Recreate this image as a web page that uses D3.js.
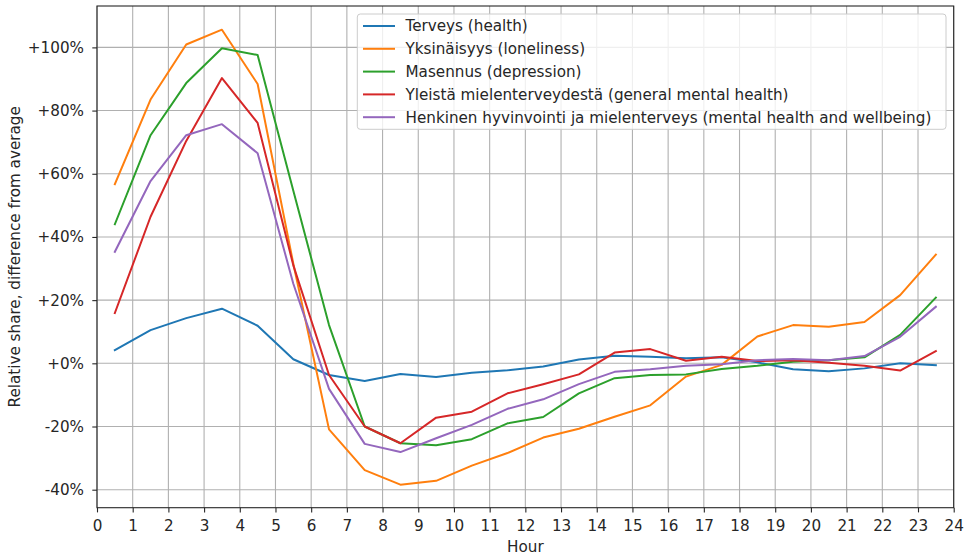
<!DOCTYPE html>
<html>
<head>
<meta charset="utf-8">
<script src="https://cdn.jsdelivr.net/npm/d3@7"></script>
<style>
  html, body { margin: 0; padding: 0; background: #fff; }
  svg { display: block; font-family: "DejaVu Sans", sans-serif; }
</style>
</head>
<body>
<svg id="chart" width="969" height="557"></svg>
<script>
const hours = [0.5,1.5,2.5,3.5,4.5,5.5,6.5,7.5,8.5,9.5,10.5,11.5,12.5,13.5,14.5,15.5,16.5,17.5,18.5,19.5,20.5,21.5,22.5,23.5];
const seriesNames = [
  "Terveys (health)",
  "Yksinäisyys (loneliness)",
  "Masennus (depression)",
  "Yleistä mielenterveydestä (general mental health)",
  "Henkinen hyvinvointi ja mielenterveys (mental health and wellbeing)"
];
const terveys    = [4.2,10.5,14.3,17.3,11.9,1.3,-3.7,-5.6,-3.4,-4.3,-3.0,-2.2,-1.0,1.2,2.4,2.1,1.6,1.9,0.3,-1.9,-2.5,-1.6,0.0,-0.6];
const yksinaisyys= [56.7,83.5,100.9,105.6,88.4,31.5,-20.9,-33.8,-38.4,-37.2,-32.4,-28.4,-23.5,-20.7,-16.9,-13.3,-4.2,-0.5,8.5,12.1,11.6,13.1,21.6,34.4];
const masennus   = [44.0,72.2,88.7,99.7,97.6,54.6,12.1,-20.0,-25.3,-25.9,-24.0,-19.0,-17.0,-9.5,-4.7,-3.7,-3.5,-1.8,-0.8,0.5,1.0,1.9,9.0,20.8];
const yleista    = [15.9,46.4,70.4,90.3,76.1,31.0,-3.7,-20.0,-25.3,-17.2,-15.3,-9.5,-6.6,-3.5,3.4,4.5,0.8,2.1,0.7,1.0,0.2,-0.8,-2.3,3.9];
const henkinen   = [35.3,57.7,72.2,75.7,66.5,25.2,-8.1,-25.5,-28.1,-23.7,-19.5,-14.4,-11.4,-6.6,-2.7,-1.9,-0.8,-0.3,1.0,1.4,1.0,2.3,8.4,17.9];
const seriesValues = [terveys, yksinaisyys, masennus, yleista, henkinen];
const colors = ["#1f77b4","#ff7f0e","#2ca02c","#d62728","#9467bd"];
const xTicks = d3.range(0, 25, 1);
const yTicks = [-40,-20,0,20,40,60,80,100];
const yTickLabels = ["-40%","-20%","+0%","+20%","+40%","+60%","+80%","+100%"];
const xLabel = "Hour";
const yLabel = "Relative share, difference from average";

const L = 97, R = 953.7, T = 6, B = 507.7;
const FS = "15.2px";
const svg = d3.select("#chart");
const x = d3.scaleLinear().domain([0, 24]).range([L, R]);
const y = d3.scaleLinear().domain([-45.7, 113.1]).range([B, T]);
const textColor = "#262626";

// grid
const grid = svg.append("g");
grid.selectAll("line.gx").data(xTicks).join("line")
  .attr("x1", d => x(d)).attr("x2", d => x(d)).attr("y1", T).attr("y2", B)
  .attr("stroke", "#b0b0b0").attr("stroke-width", 1.1);
grid.selectAll("line.gy").data(yTicks).join("line")
  .attr("y1", d => y(d)).attr("y2", d => y(d)).attr("x1", L).attr("x2", R)
  .attr("stroke", "#b0b0b0").attr("stroke-width", 1.1);

// lines
svg.append("clipPath").attr("id", "clip").append("rect")
  .attr("x", L).attr("y", T).attr("width", R - L).attr("height", B - T);
const line = d3.line().x((d, i) => x(hours[i])).y(d => y(d));
svg.append("g").attr("clip-path", "url(#clip)")
  .selectAll("path").data(seriesValues).join("path")
  .attr("d", d => line(d)).attr("fill", "none")
  .attr("stroke", (d, i) => colors[i]).attr("stroke-width", 2)
  .attr("stroke-linejoin", "round").attr("stroke-linecap", "square");

// axes
const xAxis = d3.axisBottom(x).tickValues(xTicks).tickFormat(d3.format("d")).tickSize(4.7).tickPadding(7.4);
const gx = svg.append("g").attr("transform", `translate(0,${B})`).call(xAxis);
const yAxis = d3.axisLeft(y).tickValues(yTicks).tickFormat(d => yTickLabels[yTicks.indexOf(d)]).tickSize(4.7).tickPadding(8.3);
const gy = svg.append("g").attr("transform", `translate(${L},0)`).call(yAxis);
[gx, gy].forEach(g => {
  g.select(".domain").remove();
  g.selectAll(".tick line").attr("stroke", textColor).attr("stroke-width", 1.1);
  g.selectAll(".tick text").attr("fill", textColor).style("font-size", FS).style("font-family", "DejaVu Sans");
});

// spines
svg.append("rect").attr("x", L).attr("y", T).attr("width", R - L).attr("height", B - T)
  .attr("fill", "none").attr("stroke", textColor).attr("stroke-width", 1.1);

// axis labels
svg.append("text").attr("x", (L + R) / 2).attr("y", 551.7).attr("text-anchor", "middle")
  .attr("fill", textColor).style("font-size", FS).text(xLabel);
svg.append("text").attr("transform", `translate(19.7,${(T + B) / 2}) rotate(-90)`)
  .attr("text-anchor", "middle").attr("fill", textColor).style("font-size", FS).text(yLabel);

// legend
const lg = svg.append("g");
lg.append("rect").attr("x", 357.3).attr("y", 14).attr("width", 588.7).attr("height", 115.3)
  .attr("rx", 3).attr("fill", "#fff").attr("fill-opacity", 0.8)
  .attr("stroke", "#cccccc").attr("stroke-width", 1);
seriesNames.forEach((name, i) => {
  const cy = 26 + i * 22.8;
  lg.append("line").attr("x1", 363).attr("x2", 395).attr("y1", cy).attr("y2", cy)
    .attr("stroke", colors[i]).attr("stroke-width", 2);
  lg.append("text").attr("x", 405.5).attr("y", cy).attr("dy", "0.35em")
    .attr("fill", textColor).style("font-size", FS).text(name);
});
</script>
</body>
</html>
